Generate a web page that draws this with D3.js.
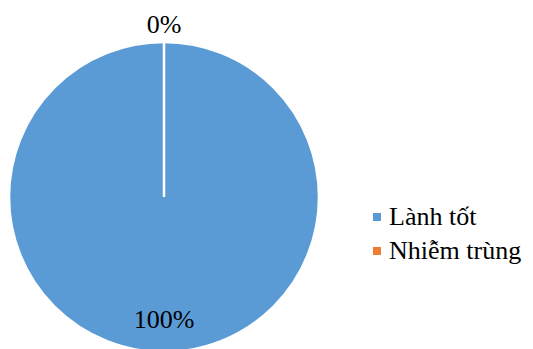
<!DOCTYPE html>
<html>
<head>
<meta charset="utf-8">
<script src="https://cdn.jsdelivr.net/npm/d3@7"></script>
<style>
  body { margin: 0; background: #fff; }
</style>
</head>
<body>
<svg id="vis" width="533" height="349"></svg>
<script>
const categories = ["Lành tốt", "Nhiễm trùng"];
const values = [100, 0];
const labels = ["100%", "0%"];
const colors = ["#5B9BD5", "#ED7D31"];

const fontFam = "'Liberation Serif', 'Times New Roman', 'Liberation Sans', sans-serif";
const fontSize = 26;

const svg = d3.select("#vis");

let cx = 164, cy = 197, radius = 155;

const pie = d3.pie().sort(null).value(d => d.value);
const arcs = pie(categories.map((c, i) => ({ name: c, value: values[i], label: labels[i] })));
const arc = d3.arc().innerRadius(0).outerRadius(radius);

const pieG = svg.append("g").attr("transform", `translate(${cx},${cy})`);

pieG.selectAll("path")
  .data(arcs)
  .join("path")
    .attr("d", arc)
    .attr("fill", (d, i) => colors[i])
    .attr("stroke", "#fff")
    .attr("stroke-width", 2.5);

// data labels: big slice inside near the bottom, empty slice above the top
const labelPos = [
  { x: 0, y: 131 },
  { x: 0, y: -164 }
];
pieG.selectAll("text.lbl")
  .data(arcs)
  .join("text")
    .attr("class", "lbl")
    .attr("x", (d, i) => labelPos[i].x)
    .attr("y", (d, i) => labelPos[i].y)
    .attr("text-anchor", "middle")
    .style("font-family", fontFam)
    .attr("font-size", fontSize)
    .text(d => d.data.label);

// legend
const legendG = svg.append("g").attr("transform", "translate(373,216)");
const item = legendG.selectAll("g")
  .data(categories)
  .join("g")
    .attr("transform", (d, i) => `translate(0,${i * 34})`);
item.append("rect")
  .attr("x", 0).attr("y", -3)
  .attr("width", 8).attr("height", 8)
  .attr("fill", (d, i) => colors[i]);
item.append("text")
  .attr("x", 16).attr("y", 9)
  .style("font-family", fontFam)
  .attr("font-size", fontSize)
  .text(d => d);
</script>
</body>
</html>
